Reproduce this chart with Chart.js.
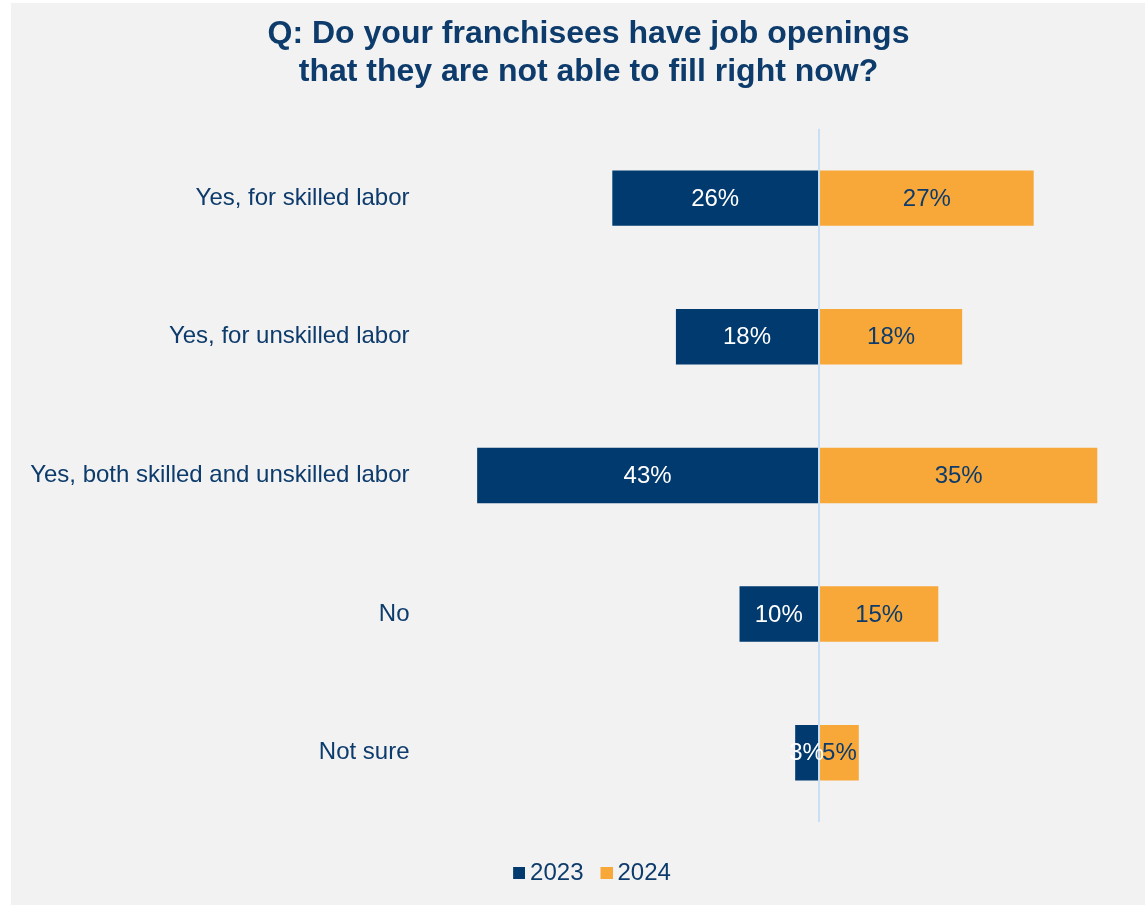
<!DOCTYPE html>
<html>
<head>
<meta charset="utf-8">
<title>Job openings franchisees cannot fill</title>
<script src="https://cdn.jsdelivr.net/npm/chart.js@4/dist/chart.umd.min.js"></script>
<style>
  html, body { margin: 0; padding: 0; background: #ffffff; }
  #wrap { width: 1145px; height: 905px; position: relative; }
</style>
</head>
<body>
<div id="wrap"><canvas id="chart" width="1145" height="905"></canvas></div>
<script>
// Survey answers (top to bottom)
const categories = [
  'Yes, for skilled labor',
  'Yes, for unskilled labor',
  'Yes, both skilled and unskilled labor',
  'No',
  'Not sure'
];
// Share of respondents, percent
const values2023 = [26, 18, 43, 10, 3];
const values2024 = [27, 18, 35, 15, 5];
const seriesNames = ['2023', '2024'];
const titleLines = ['Q: Do your franchisees have job openings', 'that they are not able to fill right now?'];

const NAVY = '#003a6e';
const ORANGE = '#f8a838';
const TEXT = '#0d3b6b';
const FONT = "'Liberation Sans', Arial, Helvetica, sans-serif";

// Small square legend swatch, drawn near the right side of its canvas
function swatch(color) {
  const c = document.createElement('canvas');
  c.width = 26;
  c.height = 12;
  const g = c.getContext('2d');
  g.fillStyle = color;
  g.fillRect(14, 0, 12, 12);
  return c;
}
const swatches = [swatch(NAVY), swatch(ORANGE)];

// Panel background
const panelBackground = {
  id: 'panelBackground',
  beforeDraw(chart) {
    const { ctx, width, height } = chart;
    ctx.save();
    ctx.fillStyle = '#ffffff';
    ctx.fillRect(0, 0, width, height);
    ctx.fillStyle = '#f2f2f2';
    ctx.fillRect(11, 3, width - 11, height - 3);
    ctx.restore();
  }
};

// Let the long category labels use the full left margin
const wideLabelArea = {
  id: 'wideLabelArea',
  afterLayout(chart) {
    chart.scales.y.left = 0;
  }
};

// Percent labels centred in each bar
const barValueLabels = {
  id: 'barValueLabels',
  afterDraw(chart) {
    const { ctx } = chart;
    ctx.save();
    ctx.font = '24px ' + FONT;
    ctx.textAlign = 'center';
    ctx.textBaseline = 'middle';
    chart.data.datasets.forEach((ds, di) => {
      const meta = chart.getDatasetMeta(di);
      meta.data.forEach((bar, i) => {
        const src = di === 0 ? values2023 : values2024;
        const cx = (bar.x + bar.base) / 2;
        ctx.fillStyle = di === 0 ? '#ffffff' : TEXT;
        ctx.fillText(src[i] + '%', cx, bar.y + 1);
      });
    });
    ctx.restore();
  }
};

new Chart(document.getElementById('chart'), {
  type: 'bar',
  data: {
    labels: categories,
    datasets: [
      {
        label: seriesNames[0],
        data: values2023.map(v => -v),
        backgroundColor: NAVY,
        barPercentage: 0.4,
        categoryPercentage: 1
      },
      {
        label: seriesNames[1],
        data: values2024,
        backgroundColor: ORANGE,
        barPercentage: 0.4,
        categoryPercentage: 1
      }
    ]
  },
  options: {
    indexAxis: 'y',
    responsive: false,
    animation: false,
    layout: { padding: { top: 3, left: 32, right: 0, bottom: 10 } },
    scales: {
      x: {
        stacked: true,
        min: -50,
        max: 41,
        z: 1,
        ticks: { display: false },
        border: { display: false },
        grid: {
          drawTicks: false,
          lineWidth: 2,
          color: c => (c.tick && c.tick.value === 0 ? '#c9e0f4' : 'rgba(0,0,0,0)')
        },
        afterFit: s => { s.height = 29; }
      },
      y: {
        stacked: true,
        border: { display: false },
        grid: { display: false, drawTicks: false },
        ticks: {
          color: TEXT,
          font: { family: FONT, size: 24 },
          padding: 12
        },
        afterFit: s => { s.width = 389.5; }
      }
    },
    plugins: {
      title: {
        display: true,
        text: titleLines,
        color: TEXT,
        font: { family: FONT, size: 32, weight: 'bold', lineHeight: 1.2 },
        padding: { top: 12, bottom: 37 }
      },
      legend: {
        position: 'bottom',
        labels: {
          color: TEXT,
          font: { family: FONT, size: 24 },
          usePointStyle: true,
          pointStyleWidth: 12,
          boxHeight: 12,
          padding: 10,
          generateLabels(chart) {
            const items = Chart.defaults.plugins.legend.labels.generateLabels(chart);
            items.forEach(it => { it.pointStyle = swatches[it.datasetIndex]; });
            return items;
          }
        }
      },
      tooltip: { enabled: false }
    }
  },
  plugins: [panelBackground, wideLabelArea, barValueLabels]
});
</script>
</body>
</html>
